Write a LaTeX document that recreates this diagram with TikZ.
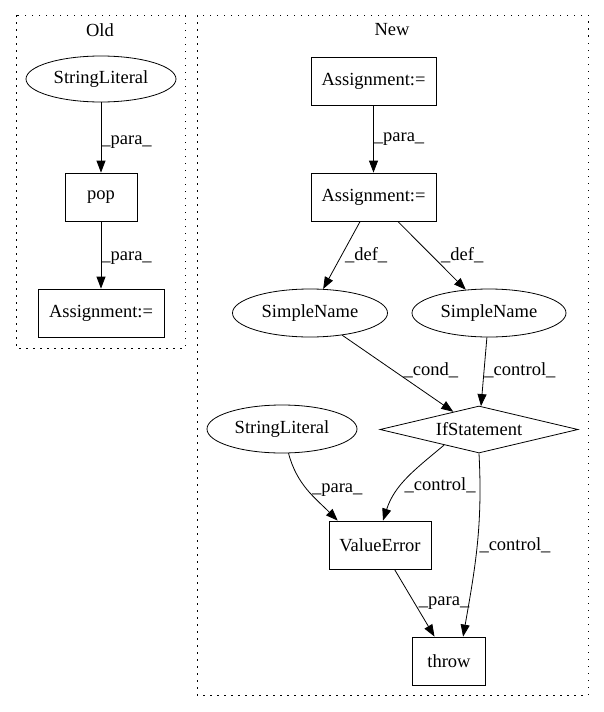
\documentclass[tikz,border=0pt]{standalone}
\usepackage{fontspec}
\setmainfont{Liberation Serif}
\usetikzlibrary{shapes.geometric,arrows.meta}
\tikzset{
	box/.style={draw, rectangle, minimum height=48, inner sep=0pt},
	oval/.style={draw, ellipse, minimum height=48, inner sep=0pt},
	cond/.style={draw, diamond, aspect=4, minimum width=198, minimum height=47, inner sep=0pt},
	edge/.style={-{Triangle[length=12pt,width=9pt]}},
	lbl/.style={anchor=west, inner sep=0pt},
	cluster/.style={dash pattern=on 1.5pt off 5.5pt},
}

\begin{document}
\begin{tikzpicture}[x=1pt, y=-1pt, font=\fontsize{18.5}{22}\selectfont, line width=0.8pt]
	\useasboundingbox (0,0) rectangle (604,712);
	\draw [cluster] (16,15) rectangle (185,348);
	\draw [cluster] (197,15) rectangle (588,695);
	\node (old) at (100,30) {Old};
	\node (new) at (392,30) {New};

	\node [oval, minimum width=150, minimum height=46] (sl1) at (101,79) {StringLiteral};
	\node [box, minimum width=72] (pop) at (101,197) {pop};
	\node [box, minimum width=126] (asg0) at (101,313) {Assignment:=};

	\node [box, minimum width=125] (asg1) at (373.5,81) {Assignment:=};
	\node [box, minimum width=125] (asg2) at (373.5,197) {Assignment:=};
	\node [oval, minimum width=155] (sn1) at (310,313) {SimpleName};
	\node [oval, minimum width=154] (sn2) at (489,313) {SimpleName};
	\node [cond] (ifs) at (479,429.5) {IfStatement};
	\node [oval, minimum width=150] (sl2) at (282,429) {StringLiteral};
	\node [box, minimum width=102] (ve) at (380,545) {ValueError};
	\node [box, minimum width=73] (th) at (449,661) {throw};

	\draw [edge] (sl1) -- node [lbl, pos=0.56] {\_para\_} (pop);
	\draw [edge] (pop) -- node [lbl, pos=0.54] {\_para\_} (asg0);

	\draw [edge] (asg1) -- node [lbl, pos=0.5] {\_para\_} (asg2);
	\draw [edge] (asg2) -- node [lbl, pos=0.5, xshift=3] {\_def\_} (sn1);
	\draw [edge] (asg2) -- node [lbl, pos=0.5, xshift=9] {\_def\_} (sn2);
	\draw [edge] (sn1) -- node [lbl, pos=0.46, xshift=10] {\_cond\_} (ifs);
	\draw [edge] (sn2) -- node [lbl, pos=0.48] {\_control\_} (ifs);
	\draw [edge] (sl2) to [out=-75, in=135] node [lbl, pos=0.5, xshift=4] {\_para\_} (ve.150);
	\draw [edge] (ifs.204) to [out=220, in=72] node [lbl, pos=0.6, xshift=3] {\_control\_} (ve.83);
	\draw [edge] (ifs.south) to [out=-87, in=80] node [lbl, pos=0.5, xshift=2] {\_control\_} (th.60);
	\draw [edge] (ve) -- node [lbl, pos=0.5, xshift=4] {\_para\_} (th);
\end{tikzpicture}
\end{document}
